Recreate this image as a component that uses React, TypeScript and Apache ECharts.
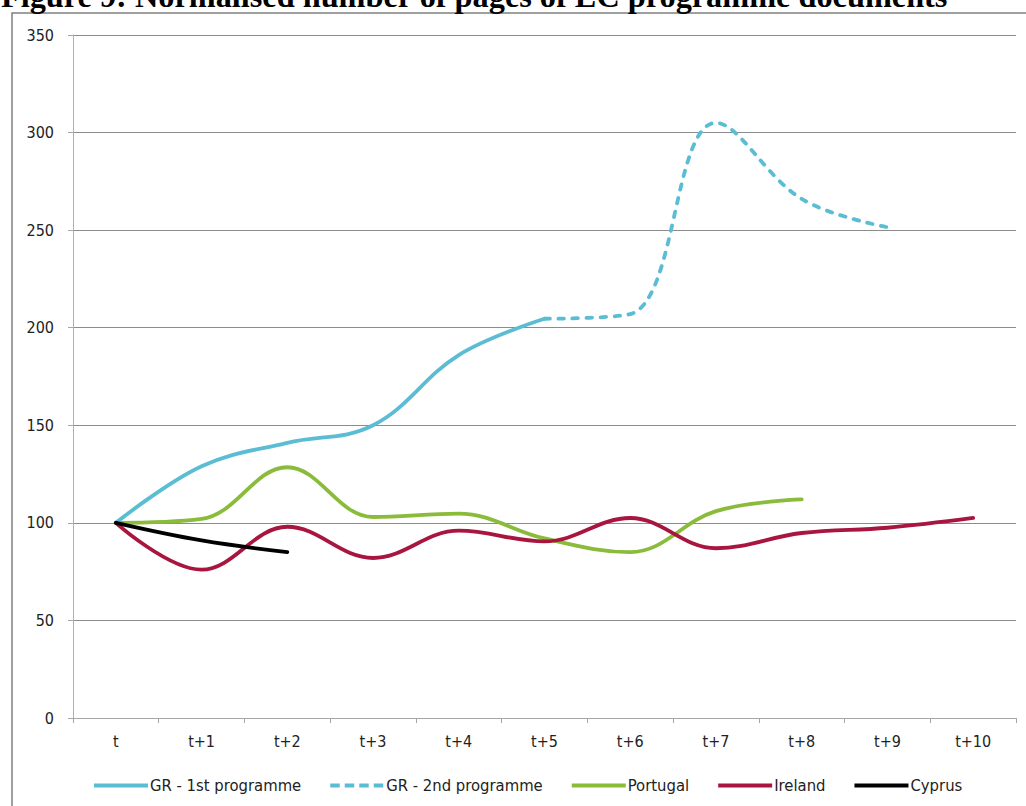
import React, { useEffect, useRef } from "react";
import * as echarts from "echarts";

const categories = ["t", "t+1", "t+2", "t+3", "t+4", "t+5", "t+6", "t+7", "t+8", "t+9", "t+10"];
const gr1 = [100, 129, 141, 150, 186, 204.6, null, null, null, null, null];
const gr2 = [null, null, null, null, null, 204.6, 207, 305, 266, 251.5, null];
const portugal = [100, 102, 128.5, 103, 104.7, 92, 85, 106, 112, null, null];
const ireland = [100, 76, 98, 82, 96, 90.5, 102.5, 87, 94.8, 97.5, 102.5];
const cyprus = [100, 91, 85, null, null, null, null, null, null, null, null];
const seriesNames = ["GR - 1st programme", "GR - 2nd programme", "Portugal", "Ireland", "Cyprus"];
const yTicks = { min: 0, max: 350, interval: 50 };
const titleText = "Figure 9: Normalised number of pages of EC programme documents";

const FONT = "'DejaVu Sans Condensed', 'Liberation Sans Narrow', 'DejaVu Sans', sans-serif";
const BLUE = "#5bbdd3";
const GREEN = "#8abb3a";
const RED = "#a8163f";
const BLACK = "#000000";
const DASH = [5.5, 8.5];
const LEGEND_DASH = [9.5, 5];

export default function App() {
  const ref = useRef<HTMLDivElement>(null);
  useEffect(() => {
    if (!ref.current) return;
    const chart = echarts.init(ref.current, undefined, { renderer: "svg" });
    const lineSeries = (name: string, data: (number | null)[], color: string, dashed = false) => ({
      name,
      type: "line",
      data,
      smooth: 0.38,
      symbol: "none",
      showSymbol: false,
      connectNulls: false,
      lineStyle: { color, width: 3.8, type: dashed ? DASH : "solid", cap: "round" },
      itemStyle: { color },
      emphasis: { disabled: true },
    });
    chart.setOption({
      animation: false,
      backgroundColor: "#ffffff",
      textStyle: { fontFamily: FONT },
      grid: { left: 73, right: 10, top: 35, bottom: 88, containLabel: false },
      graphic: [
        {
          type: "rect",
          shape: { x: 12, y: 13, width: 1040, height: 820 },
          style: { fill: "none", stroke: "#808080", lineWidth: 1.5 },
          silent: true,
          z: -10,
        },
        {
          type: "text",
          x: 1,
          y: -4,
          style: {
            text: titleText,
            font: "bold 32.3px 'Liberation Serif', 'Times New Roman', serif",
            fill: "#000",
            verticalAlign: "middle",
            align: "left",
          },
          silent: true,
        },
      ],
      legend: {
        data: seriesNames.map((n, i) =>
          i === 1 ? { name: n, lineStyle: { type: LEGEND_DASH, width: 4, cap: "butt" } } : { name: n }
        ),
        left: 92,
        top: 777,
        padding: 0,
        itemWidth: 54,
        itemHeight: 14,
        itemGap: 27,
        itemStyle: { opacity: 0 },
        lineStyle: { width: 4, cap: "butt" },
        textStyle: { fontFamily: FONT, fontSize: 16.5, color: "#222", padding: [0, 0, 0, -3] },
      },
      xAxis: {
        type: "category",
        data: categories,
        boundaryGap: true,
        axisLine: { show: true, lineStyle: { color: "#a6a6a6", width: 1 } },
        axisTick: { show: true, length: 5, alignWithLabel: false, lineStyle: { color: "#a6a6a6" } },
        axisLabel: { fontFamily: FONT, fontSize: 16, color: "#222", margin: 15 },
        splitLine: { show: false },
      },
      yAxis: {
        type: "value",
        min: yTicks.min,
        max: yTicks.max,
        interval: yTicks.interval,
        axisLine: { show: true, lineStyle: { color: "#b0b0b0", width: 1 } },
        axisTick: { show: true, length: 5, lineStyle: { color: "#a6a6a6" } },
        axisLabel: { fontFamily: FONT, fontSize: 16, color: "#222", margin: 19 },
        splitLine: { show: true, lineStyle: { color: "#8c8c8c", width: 1 } },
      },
      series: [
        lineSeries(seriesNames[0], gr1, BLUE),
        lineSeries(seriesNames[1], gr2, BLUE, true),
        lineSeries(seriesNames[2], portugal, GREEN),
        lineSeries(seriesNames[3], ireland, RED),
        lineSeries(seriesNames[4], cyprus, BLACK),
      ],
    });
    return () => chart.dispose();
  }, []);
  return (
    <div
      ref={ref}
      style={{ position: "absolute", left: 0, top: 0, width: 1026, height: 806, overflow: "hidden", background: "#fff" }}
    />
  );
}
